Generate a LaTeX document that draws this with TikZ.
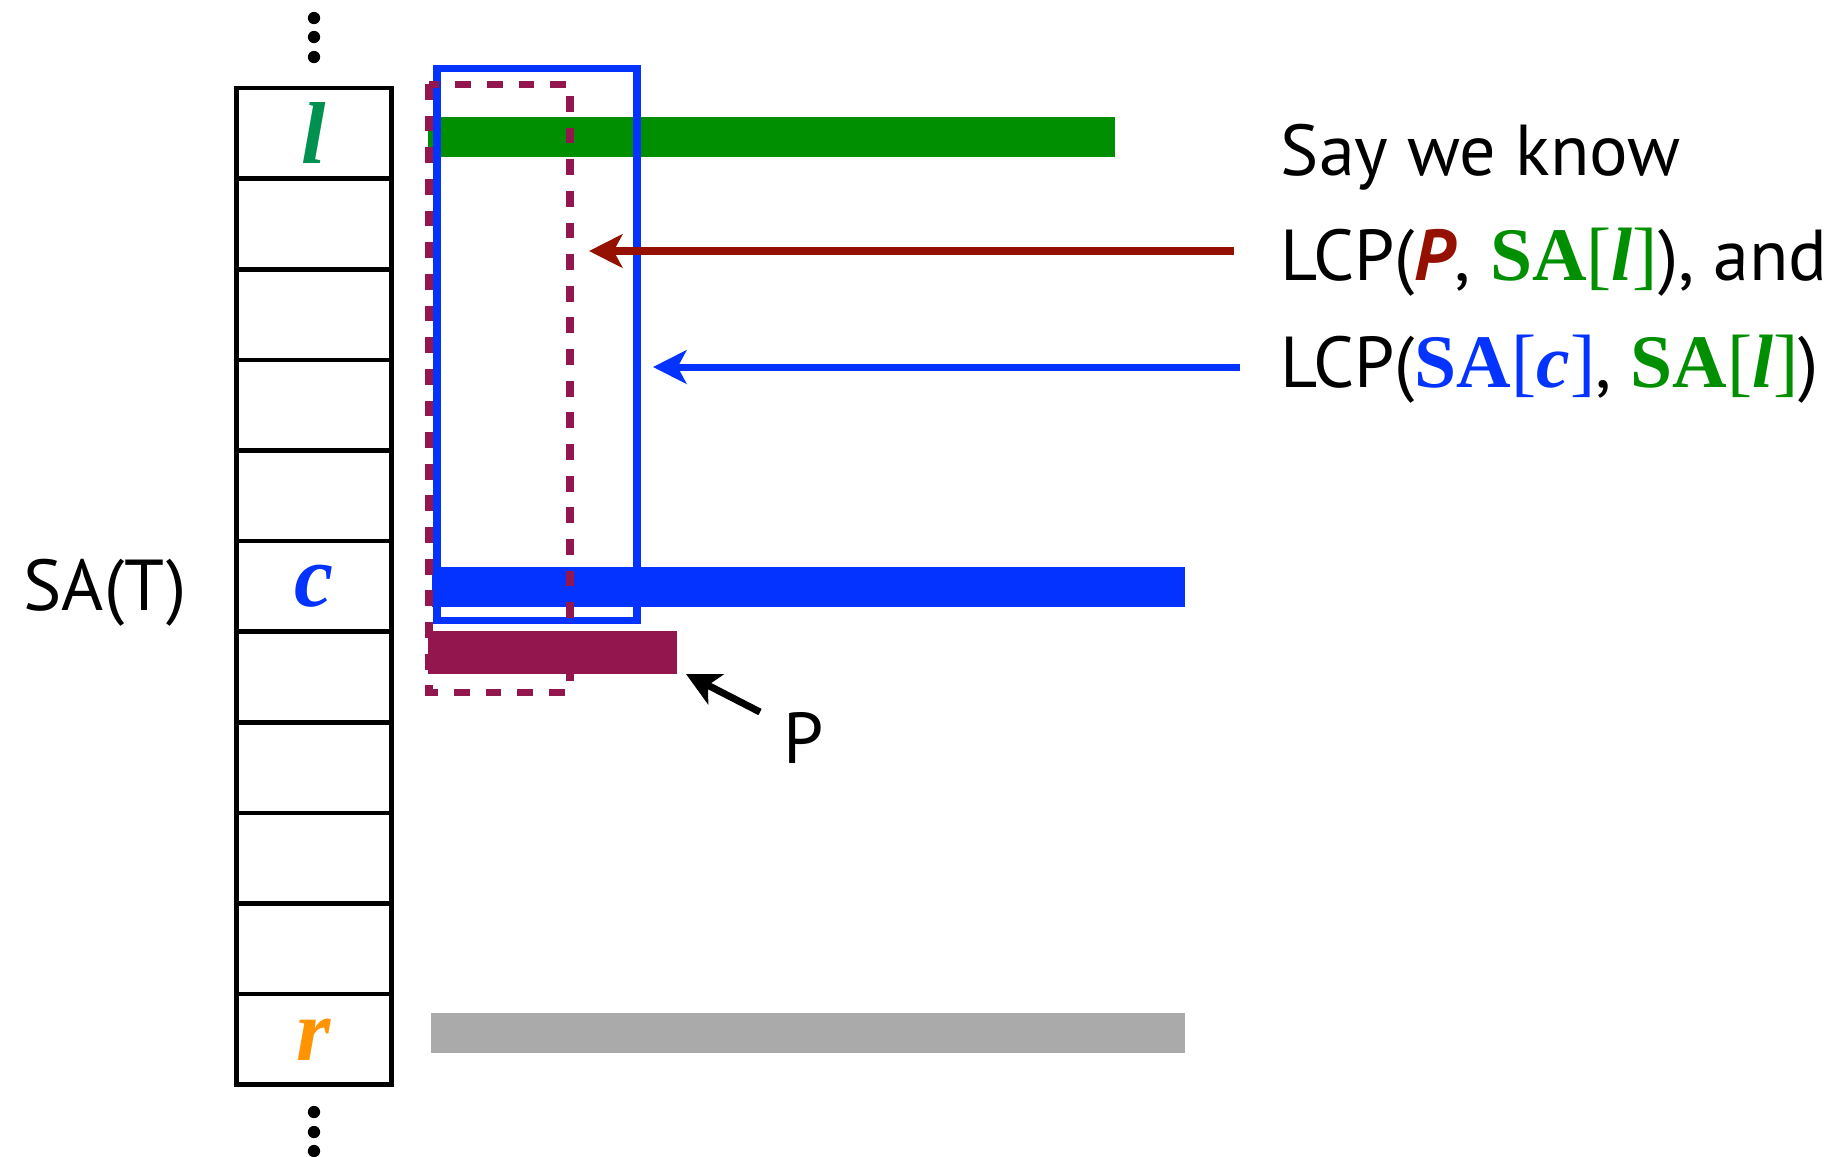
\documentclass[tikz,border=0pt]{standalone}
\usepackage{fontspec}
\setmainfont{PT Sans}
\newfontfamily\tnr{Liberation Serif}
\usepackage{xcolor}
\usepackage{tikz}
\usetikzlibrary{arrows.meta}

\definecolor{sagreen}{RGB}{0,143,0}
\definecolor{lgreen}{RGB}{0,145,80}
\definecolor{sablue}{RGB}{4,51,255}
\definecolor{pred}{RGB}{148,17,0}
\definecolor{pmauve}{RGB}{147,23,78}
\definecolor{rorange}{RGB}{255,147,0}
\definecolor{bargray}{RGB}{170,170,170}

\newcommand{\cellvar}[2]{{\tnr\fontsize{25}{28}\selectfont\bfseries\itshape\color{#1}#2}}
\newcommand{\saof}[2]{{\color{#1}\tnr\fontsize{21.5}{24}\selectfont\textbf{SA}[\textbf{\textit{#2}}]}}

\begin{document}
\begin{tikzpicture}[x=0.01cm, y=-0.01cm, >={Stealth[length=9.5pt,width=9.5pt,inset=2.5pt]},
    cell/.style={draw, line width=1.3pt, minimum width=1.55cm, minimum height=0.906cm, inner sep=0pt},
    txt/.style={anchor=base west, inner sep=0pt, font=\fontsize{20.5}{24}\selectfont}]
    \useasboundingbox (0,0) rectangle (1834,1156);

    % Mảng hậu tố SA(T)
    \foreach \i in {0,...,10} {
        \node[cell] (c\i) at (314, {133.3+90.6*\i}) {};
    }
    \node at (c0) {\cellvar{lgreen}{l}};
    \node at (c5) {\cellvar{sablue}{c}};
    \node at (c10) {\cellvar{rorange}{r}};
    \node[txt] (sat) at (23,610) {SA(T)};

    % Dấu ba chấm
    \foreach \y in {18,37,57,1112,1132,1151} {
        \fill (314,\y) circle[radius=1.75pt];
    }

    % Các thanh hậu tố
    \fill[sagreen] (428,117) rectangle (1115,157);
    \fill[sablue] (432,567) rectangle (1185,607);
    \fill[pmauve] (428,631) rectangle (677,674);
    \fill[bargray] (431,1013) rectangle (1185,1053);

    % Hai khung LCP
    \draw[sablue, line width=2pt] (437,68) rectangle (637,620);
    \draw[pmauve, line width=2pt, dash pattern=on 4.5pt off 4.5pt] (429,84) rectangle (570,692);

    % Chú thích bên phải
    \node[txt] (say) at (1280,175) {Say we know};
    \node[txt] (lcpa) at (1280,280) {LCP({\color{pred}\bfseries\itshape P}, \saof{sagreen}{l}), and};
    \node[txt] (lcpb) at (1280,387) {LCP(\saof{sablue}{c}, \saof{sagreen}{l})};
    \node[txt] (plab) at (783,763) {P};

    % Mũi tên
    \coordinate (atail) at (1234,251);
    \coordinate (ahead) at (589,251);
    \coordinate (btail) at (1240,367);
    \coordinate (bhead) at (653,367);
    \coordinate (ptail) at (760,712);
    \coordinate (phead) at (686,674);
    \draw[->, pred, line width=2.3pt] (atail) -- (ahead);
    \draw[->, sablue, line width=2pt] (btail) -- (bhead);
    \draw[->, line width=2pt] (ptail) -- (phead);

\end{tikzpicture}
\end{document}
